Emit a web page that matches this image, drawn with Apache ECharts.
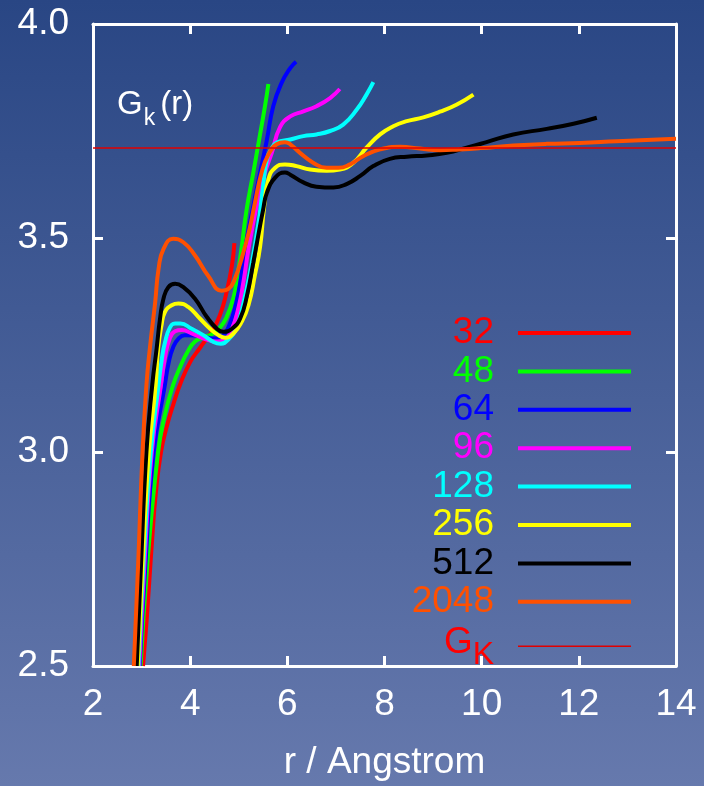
<!DOCTYPE html>
<html>
<head>
<meta charset="utf-8">
<script src="https://cdn.jsdelivr.net/npm/echarts@6/dist/echarts.min.js"></script>
<style>
  html, body { margin: 0; padding: 0; }
  body { width: 704px; height: 786px; background: linear-gradient(to bottom, #294684 0%, #6679ad 100%); }
  #chart { width: 704px; height: 786px; }
</style>
</head>
<body>
<div id="chart"></div>
<script>
// Axis ticks
const xTicks = [2, 4, 6, 8, 10, 12, 14];
const yTicks = [2.5, 3.0, 3.5, 4.0];

// Kirkwood-Buff integral G_k(r) for the different system sizes: [r, G]
const g32 = [[3.03,2.50],[3.10,2.60],[3.16,2.70],[3.22,2.80],[3.29,2.90],[3.40,3.00],[3.52,3.06],[3.65,3.11],[3.80,3.16],[4.00,3.21],[4.20,3.243],[4.44,3.281],[4.61,3.319],[4.75,3.374],[4.86,3.436],[4.91,3.488]];
const g48 = [[2.98,2.50],[3.12,2.74],[3.34,3.00],[3.48,3.087],[3.65,3.157],[3.80,3.20],[3.95,3.235],[4.10,3.258],[4.27,3.268],[4.44,3.275],[4.61,3.29],[4.75,3.315],[4.89,3.36],[4.97,3.41],[5.05,3.47],[5.16,3.565],[5.30,3.653],[5.42,3.73],[5.54,3.808],[5.61,3.86]];
const g64 = [[2.96,2.50],[3.08,2.74],[3.25,3.00],[3.48,3.157],[3.56,3.21],[3.65,3.245],[3.76,3.265],[3.89,3.273],[4.10,3.272],[4.31,3.268],[4.51,3.265],[4.65,3.27],[4.80,3.295],[4.95,3.35],[5.05,3.41],[5.13,3.474],[5.30,3.575],[5.44,3.653],[5.58,3.730],[5.71,3.808],[5.88,3.862],[6.06,3.897],[6.18,3.912]];
const g96 = [[2.95,2.50],[3.06,2.74],[3.21,3.00],[3.40,3.157],[3.48,3.22],[3.58,3.265],[3.69,3.282],[3.83,3.285],[4.03,3.277],[4.31,3.264],[4.55,3.258],[4.70,3.262],[4.85,3.285],[5.00,3.34],[5.10,3.40],[5.20,3.474],[5.37,3.575],[5.54,3.653],[5.68,3.699],[5.85,3.759],[6.06,3.784],[6.33,3.796],[6.60,3.808],[6.88,3.827],[7.08,3.848]];
const g128 = [[2.935,2.50],[3.04,2.74],[3.19,3.00],[3.35,3.157],[3.42,3.22],[3.48,3.255],[3.58,3.29],[3.69,3.30],[3.80,3.30],[4.03,3.288],[4.27,3.273],[4.48,3.257],[4.63,3.253],[4.78,3.262],[4.95,3.29],[5.10,3.35],[5.25,3.43],[5.40,3.53],[5.50,3.62],[5.58,3.684],[5.68,3.71],[5.78,3.723],[6.06,3.73],[6.33,3.738],[6.60,3.742],[6.88,3.750],[7.15,3.765],[7.43,3.80],[7.63,3.835],[7.77,3.864]];
const g256 = [[2.92,2.50],[3.02,2.74],[3.15,3.00],[3.29,3.157],[3.34,3.242],[3.41,3.296],[3.48,3.327],[3.62,3.343],[3.76,3.347],[3.96,3.339],[4.20,3.312],[4.41,3.288],[4.58,3.273],[4.72,3.267],[4.89,3.277],[5.06,3.304],[5.20,3.343],[5.33,3.412],[5.44,3.48],[5.52,3.57],[5.61,3.637],[5.75,3.664],[5.95,3.672],[6.19,3.668],[6.47,3.660],[6.81,3.657],[7.08,3.660],[7.36,3.676],[7.63,3.711],[7.91,3.742],[8.18,3.761],[8.46,3.773],[8.80,3.782],[9.14,3.795],[9.49,3.812],[9.83,3.835]];
const g512 = [[2.90,2.50],[2.99,2.74],[3.10,3.00],[3.22,3.157],[3.31,3.242],[3.38,3.312],[3.45,3.358],[3.55,3.385],[3.69,3.393],[3.86,3.385],[4.10,3.358],[4.34,3.316],[4.55,3.288],[4.68,3.281],[4.86,3.288],[5.03,3.312],[5.17,3.366],[5.30,3.443],[5.40,3.505],[5.50,3.565],[5.58,3.606],[5.75,3.641],[5.95,3.653],[6.06,3.648],[6.33,3.630],[6.60,3.620],[6.95,3.618],[7.22,3.626],[7.50,3.645],[7.77,3.668],[8.11,3.685],[8.46,3.690],[8.87,3.693],[9.28,3.699],[9.69,3.711],[10.10,3.724],[10.65,3.742],[11.34,3.755],[11.89,3.767],[12.37,3.781]];
const g2048 = [[2.84,2.50],[2.93,2.74],[3.02,3.00],[3.10,3.157],[3.17,3.242],[3.28,3.350],[3.35,3.428],[3.45,3.474],[3.65,3.498],[3.86,3.49],[4.10,3.459],[4.37,3.412],[4.65,3.377],[4.79,3.381],[4.92,3.405],[5.08,3.46],[5.22,3.52],[5.32,3.575],[5.47,3.653],[5.61,3.695],[5.78,3.719],[5.95,3.724],[6.06,3.719],[6.26,3.699],[6.53,3.676],[6.81,3.664],[7.05,3.664],[7.29,3.672],[7.56,3.691],[7.91,3.707],[8.32,3.713],[8.73,3.709],[9.14,3.705],[9.55,3.707],[9.97,3.710],[10.65,3.716],[11.34,3.72],[12.02,3.722],[12.78,3.726],[14.0,3.732]];
// Limiting value G_K
const gK = 3.71;
const gKLine = [[2, gK], [14, gK]];

const sizes = ['32', '48', '64', '96', '128', '256', '512', '2048'];
const curves = [g32, g48, g64, g96, g128, g256, g512, g2048];
const colors = ['#ff0000', '#00ff00', '#0000ff', '#ff00ff', '#00ffff', '#ffff00', '#000000', '#ff5000'];
const gKColor = '#e00000';

const FONT = '"Liberation Sans", Arial, Helvetica, sans-serif';
const WHITE = '#ffffff';

const series = sizes.map((name, i) => ({
  name: name,
  type: 'line',
  data: curves[i],
  showSymbol: false,
  symbol: 'none',
  smooth: 0.5,
  color: colors[i],
  lineStyle: { width: 4, color: colors[i], cap: 'butt' },
  clip: true,
  z: 2
}));
series.push({
  name: 'G_K',
  type: 'line',
  data: gKLine,
  showSymbol: false,
  symbol: 'none',
  color: gKColor,
  lineStyle: { width: 1.5, color: gKColor },
  z: 3
});

const legendData = sizes.map((name, i) => ({
  name: name,
  textStyle: { color: colors[i] }
}));
legendData.push({
  name: 'G_K',
  icon: 'path://M0,0H76V1H0Z',
  textStyle: { color: '#ff0000' }
});

const frameAxis = {
  axisLine: { show: true, onZero: false, lineStyle: { color: WHITE, width: 3 } },
  axisTick: { show: true, inside: true, length: 10, lineStyle: { color: WHITE, width: 3 } },
  splitLine: { show: false }
};

const chart = echarts.init(document.getElementById('chart'), null, { renderer: 'canvas' });
chart.setOption({
  animation: false,
  backgroundColor: 'transparent',
  textStyle: { fontFamily: FONT },
  grid: { left: 93, right: 28, top: 24, bottom: 117, containLabel: false },
  title: {
    text: '{a|G}{b|k}{a|(r)}',
    left: 112,
    top: 81,
    textStyle: {
      fontWeight: 'normal',
      rich: {
        a: { fontSize: 33, lineHeight: 38, color: WHITE, fontFamily: FONT, fontWeight: 'normal' },
        b: { fontSize: 23, lineHeight: 38, color: WHITE, fontFamily: FONT, fontWeight: 'normal', padding: [28, 5, 0, 1] }
      }
    }
  },
  legend: {
    orient: 'vertical',
    right: 73,
    top: 314,
    padding: 0,
    align: 'right',
    icon: 'rect',
    itemWidth: 113,
    itemHeight: 4,
    itemGap: 0.4,
    selectedMode: false,
    data: legendData,
    formatter: function (name) {
      if (name === 'G_K') return '{g|G}{k|K}{gap|}';
      return '{t|' + name + '}{gap|}';
    },
    textStyle: {
      fontFamily: FONT,
      fontSize: 37,
      lineHeight: 38,
      rich: {
        t: { fontSize: 37, lineHeight: 38, fontFamily: FONT },
        g: { fontSize: 37, lineHeight: 38, fontFamily: FONT, padding: [0, 0, 6, 0] },
        k: { fontSize: 32, lineHeight: 38, fontFamily: FONT, padding: [18, 0, 0, 0] },
        gap: { width: 19, lineHeight: 38 }
      }
    }
  },
  xAxis: [
    Object.assign({
      type: 'value',
      position: 'bottom',
      min: xTicks[0],
      max: xTicks[xTicks.length - 1],
      interval: xTicks[1] - xTicks[0],
      name: 'r / Angstrom',
      nameLocation: 'middle',
      nameGap: 78,
      nameTextStyle: { color: WHITE, fontSize: 37, fontFamily: FONT },
      axisLabel: { show: true, color: WHITE, fontSize: 37, margin: 20, fontFamily: FONT,
        formatter: v => String(v) }
    }, frameAxis),
    Object.assign({
      type: 'value',
      position: 'top',
      min: xTicks[0],
      max: xTicks[xTicks.length - 1],
      interval: xTicks[1] - xTicks[0],
      axisLabel: { show: false }
    }, frameAxis)
  ],
  yAxis: [
    Object.assign({
      type: 'value',
      position: 'left',
      min: yTicks[0],
      max: yTicks[yTicks.length - 1],
      interval: yTicks[1] - yTicks[0],
      axisLabel: { show: true, color: WHITE, fontSize: 37, margin: 24, fontFamily: FONT,
        formatter: v => v.toFixed(1) }
    }, frameAxis),
    Object.assign({
      type: 'value',
      position: 'right',
      min: yTicks[0],
      max: yTicks[yTicks.length - 1],
      interval: yTicks[1] - yTicks[0],
      axisLabel: { show: false }
    }, frameAxis)
  ],
  series: series
});
</script>
</body>
</html>
